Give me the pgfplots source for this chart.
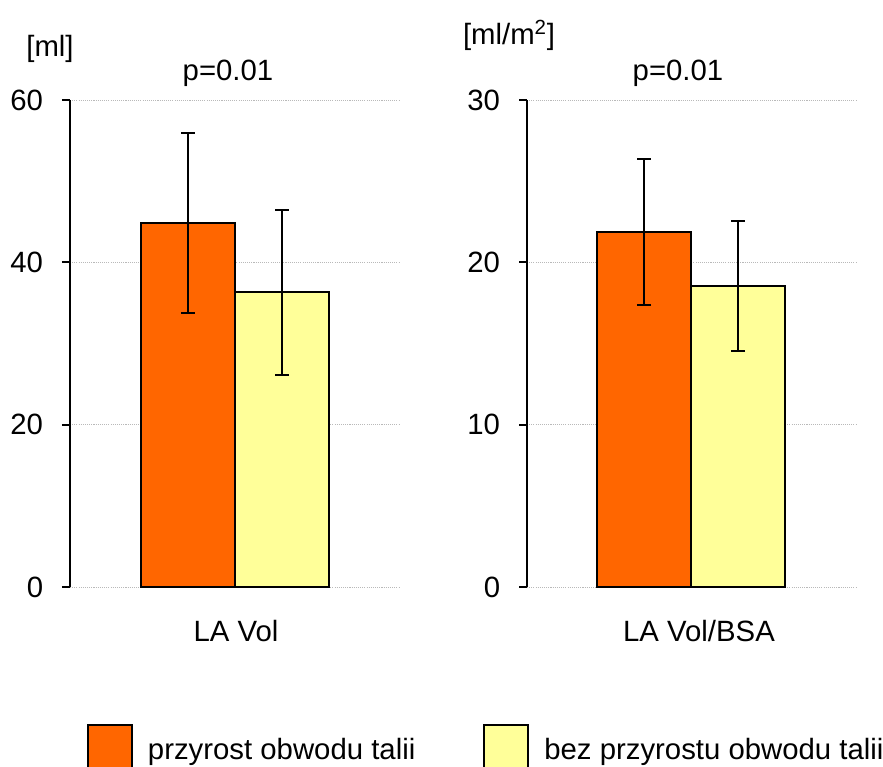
\documentclass[border=0pt]{standalone}
\usepackage{pgfplots}
\pgfplotsset{compat=1.18}
\usepackage{fontspec}
\setmainfont{Liberation Sans}
\definecolor{orangeC}{HTML}{FF6600}
\definecolor{yellowC}{HTML}{FFFF99}
\pgfplotsset{
  panel/.style={
    scale only axis,
    width=247.5pt, height=365.25pt,
    anchor=south west,
    xmin=0, xmax=330, ymin=0,
    axis x line=none,
    axis y line=left,
    y axis line style={-, line width=1.5pt, black},
    tick align=outside,
    major tick length=6pt,
    ytick style={line width=1.5pt, black},
    ymajorgrids,
    major grid style={draw=gray!55, line width=0.7pt, dash pattern=on 0.8pt off 0.8pt},
    font=\fontsize{22}{26}\selectfont,
    /pgf/number format/assume math mode=true,
    yticklabel style={anchor=east, inner sep=0pt, xshift=-14pt},
    clip=false,
  },
  barO/.style={ybar, bar width=94, bar shift=0pt, fill=orangeC, draw=black, line width=1.5pt,
    error bars/.cd, y dir=both, y explicit,
    error bar style={line width=1.6pt, black},
    error mark options={rotate=90, mark size=5.25pt, line width=1.6pt, black},
    /pgfplots/.cd},
  barY/.style={ybar, bar width=94, bar shift=0pt, fill=yellowC, draw=black, line width=1.5pt,
    error bars/.cd, y dir=both, y explicit,
    error bar style={line width=1.6pt, black},
    error mark options={rotate=90, mark size=5.25pt, line width=1.6pt, black},
    /pgfplots/.cd},
}
\begin{document}
\fontsize{22}{26}\selectfont
\begin{tikzpicture}
\useasboundingbox (0pt,0pt) rectangle (662.25pt,575.25pt);
% left panel
\begin{axis}[panel, at={(52.5pt,135pt)}, ymax=60, ytick={0,20,40,60},
  legend style={at={(0.0515,-0.2813)}, anchor=north west, draw=none, fill=none,
    inner sep=0pt, outer sep=0pt, legend columns=2,
    nodes={inner sep=0pt, font=\fontsize{22}{26}\selectfont},
    /tikz/every odd column/.append style={column sep=11.25pt},
    /tikz/every even column/.append style={column sep=51pt}},
  legend cell align=left]
\addplot[forget plot, barO] coordinates {(118,44.85) +- (0,11.05)};
\addplot[forget plot, barY] coordinates {(212,36.3) +- (0,10.2)};
\addlegendimage{legend image code/.code={\draw[fill=orangeC, draw=black, line width=1.5pt] (0.75pt,-13.5pt) rectangle (33.75pt,19.5pt);}}
\addlegendentry{przyrost obwodu talii}
\addlegendimage{legend image code/.code={\draw[fill=yellowC, draw=black, line width=1.5pt] (0.75pt,-13.5pt) rectangle (33.75pt,19.5pt);}}
\addlegendentry{bez przyrostu obwodu talii}
\end{axis}
% right panel
\begin{axis}[panel, at={(395.25pt,135pt)}, ymax=30, ytick={0,10,20,30}]
\addplot[barO] coordinates {(117,21.85) +- (0,4.5)};
\addplot[barY] coordinates {(211,18.55) +- (0,4.0)};
\end{axis}
\node[anchor=base] at (37.5pt,532.5pt) {[ml]};
\node[anchor=base] at (381.75pt,541.5pt) {[ml/m\textsuperscript{2}]};
\node[anchor=base] at (171pt,514.5pt) {p=0.01};
\node[anchor=base] at (508.5pt,514.5pt) {p=0.01};
\node[anchor=base] at (177pt,93.75pt) {LA Vol};
\node[anchor=base] at (524.25pt,93.75pt) {LA Vol/BSA};
\end{tikzpicture}
\end{document}
